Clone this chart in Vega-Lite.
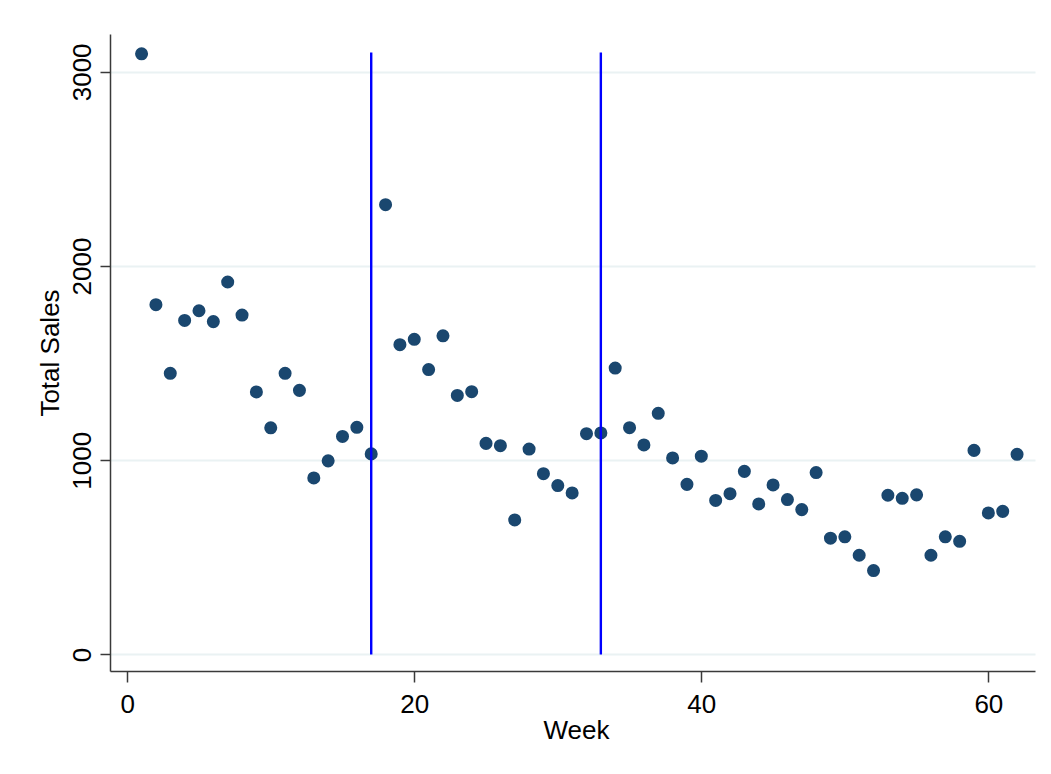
{
  "$schema": "https://vega.github.io/schema/vega-lite/v6.json",
  "autosize": {"type": "none"},
  "width": 925,
  "height": 637,
  "padding": {"left": 110, "top": 34, "right": 16, "bottom": 103},
  "background": "white",
  "config": {
    "view": {"stroke": null},
    "font": "Liberation Sans",
    "axis": {
      "labelFont": "Liberation Sans",
      "titleFont": "Liberation Sans",
      "labelFontSize": 26,
      "titleFontSize": 26,
      "labelColor": "#000000",
      "titleColor": "#000000",
      "titleFontWeight": "normal",
      "domainColor": "#3a3a3a",
      "domainWidth": 1.5,
      "tickColor": "#3a3a3a",
      "tickWidth": 1.5
    }
  },
  "datasets": {
    "sales": [
      {"week": 1, "sales": 3093}, {"week": 2, "sales": 1801}, {"week": 3, "sales": 1448},
      {"week": 4, "sales": 1720}, {"week": 5, "sales": 1770}, {"week": 6, "sales": 1714},
      {"week": 7, "sales": 1918}, {"week": 8, "sales": 1748}, {"week": 9, "sales": 1352},
      {"week": 10, "sales": 1167}, {"week": 11, "sales": 1448}, {"week": 12, "sales": 1360},
      {"week": 13, "sales": 909}, {"week": 14, "sales": 997}, {"week": 15, "sales": 1123},
      {"week": 16, "sales": 1170}, {"week": 17, "sales": 1033}, {"week": 18, "sales": 2316},
      {"week": 19, "sales": 1595}, {"week": 20, "sales": 1623}, {"week": 21, "sales": 1467},
      {"week": 22, "sales": 1641}, {"week": 23, "sales": 1334}, {"week": 24, "sales": 1353},
      {"week": 25, "sales": 1087}, {"week": 26, "sales": 1075}, {"week": 27, "sales": 693},
      {"week": 28, "sales": 1058}, {"week": 29, "sales": 931}, {"week": 30, "sales": 870},
      {"week": 31, "sales": 832}, {"week": 32, "sales": 1137}, {"week": 33, "sales": 1141},
      {"week": 34, "sales": 1475}, {"week": 35, "sales": 1168}, {"week": 36, "sales": 1079},
      {"week": 37, "sales": 1242}, {"week": 38, "sales": 1012}, {"week": 39, "sales": 876},
      {"week": 40, "sales": 1021}, {"week": 41, "sales": 793}, {"week": 42, "sales": 828},
      {"week": 43, "sales": 943}, {"week": 44, "sales": 775}, {"week": 45, "sales": 873},
      {"week": 46, "sales": 798}, {"week": 47, "sales": 746}, {"week": 48, "sales": 937},
      {"week": 49, "sales": 599}, {"week": 50, "sales": 606}, {"week": 51, "sales": 511},
      {"week": 52, "sales": 432}, {"week": 53, "sales": 820}, {"week": 54, "sales": 804},
      {"week": 55, "sales": 822}, {"week": 56, "sales": 511}, {"week": 57, "sales": 606},
      {"week": 58, "sales": 583}, {"week": 59, "sales": 1051}, {"week": 60, "sales": 729},
      {"week": 61, "sales": 737}, {"week": 62, "sales": 1031}
    ],
    "lines": [
      {"week": 17, "low": 0, "high": 3100},
      {"week": 33, "low": 0, "high": 3100}
    ]
  },
  "layer": [
    {
      "data": {"name": "sales"},
      "mark": {"type": "point", "filled": true, "shape": "circle", "size": 170, "color": "#1a476f", "opacity": 1},
      "encoding": {
        "x": {
          "field": "week", "type": "quantitative",
          "scale": {"domain": [-1.2, 63.25], "nice": false, "zero": false},
          "axis": {
            "title": "Week",
            "values": [0, 20, 40, 60],
            "format": "d",
            "grid": false,
            "tickSize": 11,
            "labelPadding": 9,
            "titleX": 466,
            "titleY": 59.5,
            "titleBaseline": "middle",
            "titleAlign": "center"
          }
        },
        "y": {
          "field": "sales", "type": "quantitative",
          "scale": {"domain": [-85, 3195], "nice": false, "zero": false},
          "axis": {
            "title": "Total Sales",
            "values": [0, 1000, 2000, 3000],
            "format": "d",
            "grid": true,
            "gridColor": "#eaf2f3",
            "gridWidth": 2,
            "tickSize": 10,
            "labelAngle": -90,
            "labelAlign": "center",
            "labelBaseline": "bottom",
            "labelPadding": 5,
            "titleAngle": -90,
            "titleX": -59.5,
            "titleY": 318.5,
            "titleBaseline": "middle",
            "titleAlign": "center"
          }
        }
      }
    },
    {
      "data": {"name": "lines"},
      "mark": {"type": "rule", "color": "#0000ff", "strokeWidth": 2.4},
      "encoding": {
        "x": {"field": "week", "type": "quantitative"},
        "y": {"field": "low", "type": "quantitative"},
        "y2": {"field": "high"}
      }
    }
  ]
}
